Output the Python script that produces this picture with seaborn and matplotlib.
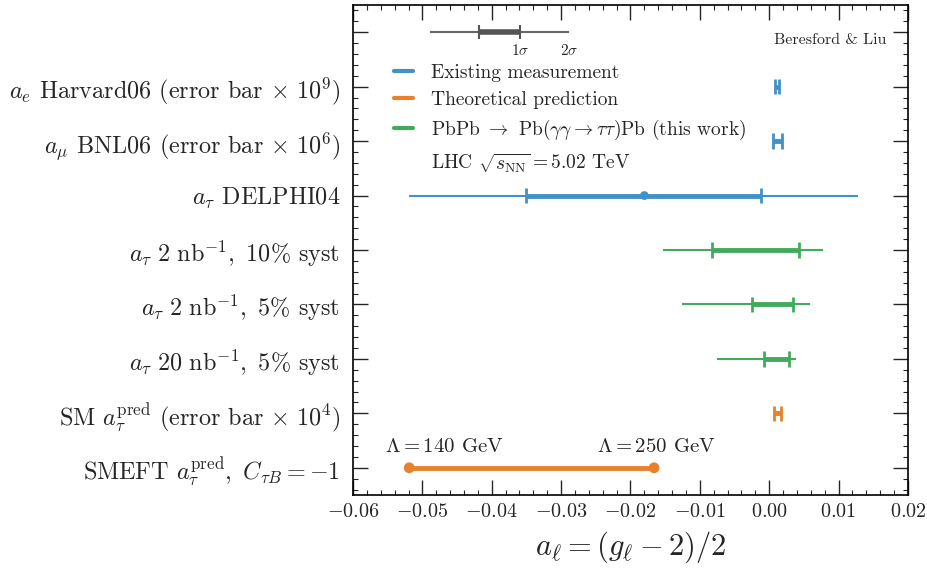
import numpy as np
import matplotlib
matplotlib.use("Agg")
import matplotlib.pyplot as plt
from matplotlib.lines import Line2D
from matplotlib.ticker import MultipleLocator
import seaborn as sns

# Rows, top to bottom (row 0 holds the 1σ / 2σ key)
row_labels = [
    "",
    r"$a_e$ Harvard06 (error bar $\times\ 10^9$)",
    r"$a_\mu$ BNL06 (error bar $\times\ 10^6$)",
    r"$a_\tau$ DELPHI04",
    r"$a_\tau\ 2\ \mathrm{nb}^{-1},\ 10\%$ syst",
    r"$a_\tau\ 2\ \mathrm{nb}^{-1},\ 5\%$ syst",
    r"$a_\tau\ 20\ \mathrm{nb}^{-1},\ 5\%$ syst",
    r"SM $a_\tau^{\mathrm{pred}}$ (error bar $\times\ 10^4$)",
    r"SMEFT $a_\tau^{\mathrm{pred}},\ C_{\tau B} = -1$",
]

# rows with central value + 1σ and 2σ intervals
meas_rows = [1, 2, 3, 4, 5, 6, 7]
meas_kind = ["exist", "exist", "exist", "lhc", "lhc", "lhc", "theory"]
meas_center = [0.00116, 0.00117, -0.0180, -0.0018, 0.0006, 0.0012, 0.00118]
sig1_lo = [0.00088, 0.00054, -0.0350, -0.0083, -0.0025, -0.0007, 0.00068]
sig1_hi = [0.00144, 0.00180, -0.0012, 0.0043, 0.0035, 0.0029, 0.00168]
sig2_lo = [0.00088, 0.00054, -0.0520, -0.0153, -0.0126, -0.0075, 0.00068]
sig2_hi = [0.00144, 0.00180, 0.0128, 0.0078, 0.0059, 0.0039, 0.00168]
show_center = [False, False, True, False, False, False, False]

# SMEFT prediction for two values of Lambda
smeft_row = 8
smeft_x = [-0.0519, -0.0166]
smeft_text = [r"$\Lambda = 140$ GeV", r"$\Lambda = 250$ GeV"]

# key for the 1σ / 2σ lines
key_thin = [-0.0489, -0.0288]
key_thick = [-0.0419, -0.0359]

colors = {"exist": "#4292c6", "theory": "#e6812e", "lhc": "#41ab5d"}

sns.set_style("ticks")
plt.rcParams["font.family"] = "serif"
plt.rcParams["font.serif"] = ["cmr10"]
plt.rcParams["mathtext.fontset"] = "cm"
plt.rcParams["axes.formatter.use_mathtext"] = True
plt.rcParams["axes.unicode_minus"] = True

fig, ax = plt.subplots(figsize=(9.28, 5.81), dpi=100)
fig.subplots_adjust(left=0.3804, right=0.9784, top=0.9914, bottom=0.148)

for i, r in enumerate(meas_rows):
    c = colors[meas_kind[i]]
    ax.hlines(r, sig2_lo[i], sig2_hi[i], color=c, lw=1.5, zorder=2)
    ax.hlines(r, sig1_lo[i], sig1_hi[i], color=c, lw=3.5, zorder=3)
    ax.vlines([sig1_lo[i], sig1_hi[i]], r - 0.14, r + 0.14, color=c, lw=2, zorder=3)

cen = [(meas_center[i], meas_rows[i]) for i in range(len(meas_rows)) if show_center[i]]
sns.scatterplot(x=[p[0] for p in cen], y=[p[1] for p in cen], color=colors["exist"],
                s=40, edgecolor="none", ax=ax, zorder=4)

ax.hlines(smeft_row, smeft_x[0], smeft_x[1], color=colors["theory"], lw=3.5, zorder=3)
sns.scatterplot(x=smeft_x, y=[smeft_row] * 2, color=colors["theory"], s=60,
                edgecolor="none", ax=ax, zorder=4)
ax.text(-0.0468, 7.62, smeft_text[0], ha="center", va="center", fontsize=15)
ax.text(-0.0163, 7.62, smeft_text[1], ha="center", va="center", fontsize=15)

# 1σ / 2σ key
ax.hlines(0, key_thin[0], key_thin[1], color="#666666", lw=1.5)
ax.hlines(0, key_thick[0], key_thick[1], color="#555555", lw=4)
ax.vlines(key_thick, -0.13, 0.13, color="#555555", lw=1.5)
ax.text(key_thick[1], 0.33, r"$1\sigma$", ha="center", va="center", fontsize=11)
ax.text(key_thin[1], 0.33, r"$2\sigma$", ha="center", va="center", fontsize=11)

ax.text(0.962, 0.928, "Beresford & Liu", transform=ax.transAxes, ha="right",
        va="center", fontsize=11.5)

handles = [
    Line2D([], [], color=colors["exist"], lw=3),
    Line2D([], [], color=colors["theory"], lw=3),
    Line2D([], [], color=colors["lhc"], lw=3),
    Line2D([], [], color="none", lw=0),
]
texts = [
    "Existing measurement",
    "Theoretical prediction",
    r"PbPb $\rightarrow$ Pb($\gamma\gamma \rightarrow \tau\tau$)Pb (this work)",
    r"LHC $\sqrt{s_{\mathrm{NN}}} = 5.02$ TeV",
]
ax.legend(handles, texts, loc="upper left", bbox_to_anchor=(0.056, 0.899),
          frameon=False, fontsize=14, handlelength=1.0, handletextpad=0.9,
          labelspacing=0.46, borderpad=0)

ax.set_xlim(-0.06, 0.02)
ax.set_ylim(8.5, -0.5)
ax.set_yticks(range(len(row_labels)))
ax.set_yticklabels(row_labels, fontsize=17.4)
ax.xaxis.set_major_locator(MultipleLocator(0.01))
ax.xaxis.set_minor_locator(MultipleLocator(0.002))
ax.yaxis.set_minor_locator(MultipleLocator(0.2))
ax.xaxis.set_major_formatter(matplotlib.ticker.FormatStrFormatter("$%.2f$"))
ax.tick_params(axis="x", labelsize=14.5, pad=6)
ax.tick_params(axis="y", pad=9)
ax.tick_params(which="both", direction="in", top=True, right=True)
ax.tick_params(which="major", length=11, width=1)
ax.tick_params(which="minor", length=3.5, width=0.8)
ax.set_xlabel(r"$a_\ell = (g_\ell - 2)/2$", fontsize=22, labelpad=6)
for s in ax.spines.values():
    s.set_linewidth(1.2)
    s.set_color("black")

fig.savefig("out.png", dpi=100)
